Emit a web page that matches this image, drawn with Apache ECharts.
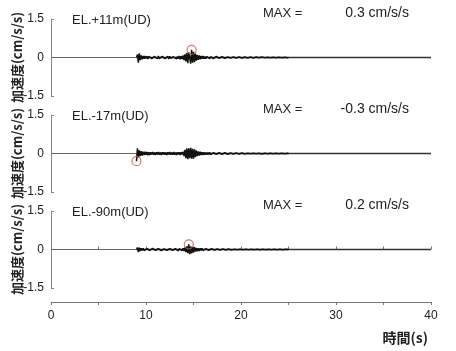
<!DOCTYPE html>
<html><head><meta charset="utf-8">
<script src="https://cdn.jsdelivr.net/npm/echarts@6/dist/echarts.min.js"></script>
<style>html,body{margin:0;padding:0;background:#fff}#c{width:456px;height:351px}</style>
</head><body><div id="c"></div>
<script>
// ---- data ----
const panelNames = ['EL.+11m(UD)', 'EL.-17m(UD)', 'EL.-90m(UD)'];
const maxTimes = [14.8, 9.0, 14.5];
const maxValues = [0.3, -0.3, 0.2];
const onsetTimes = [9.0, 9.0, 9.0];
const xTicks = [0, 10, 20, 30, 40];
const yTicks = [-1.5, 0, 1.5];
const t0 = 9.0, dt = 0.1;   // sampling of the traces below (s)
const tEnd = 40;
const acc11 = [
 0, 0.12, -0.2, 0.16, -0.1, 0.08, -0.07, 0.06, -0.05, 0.06,
 -0.04, 0.05, -0.06, 0.04, -0.03, 0.05, -0.04, 0.03, -0.05, 0.04,
 -0.03, 0.04, -0.05, 0.06, -0.04, 0.03, -0.05, 0.04, -0.03, 0.05,
 -0.04, 0.03, -0.05, 0.04, -0.06, 0.05, -0.03, 0.04, -0.05, 0.03,
 -0.04, 0.05, -0.06, 0.04, -0.05, 0.06, -0.07, 0.05, -0.06, 0.08,
 -0.1, 0.12, -0.15, 0.18, -0.22, 0.2, 0.14, -0.24, 0.3, -0.2,
 0.22, -0.18, 0.15, -0.12, 0.1, -0.09, 0.08, -0.07, 0.06, -0.05,
 0.06, -0.05, 0.04, -0.05, 0.04, -0.03, 0.04, -0.05, 0.03, -0.04,
 0.03, -0.04, 0.03, -0.03, 0.04, -0.03, 0.02, -0.03, 0.03, -0.02,
 0.03, -0.02, 0.03, -0.03, 0.02, -0.03, 0.02, -0.02, 0.03, -0.02,
 0.02, -0.03, 0.02, -0.02, 0.03, -0.02, 0.02, -0.02, 0.02, -0.03,
 0.02, -0.02, 0.02, -0.01, 0.02, -0.02, 0.01, -0.02, 0.02, -0.01,
 0.02, -0.01, 0.01, -0.02, 0.01, -0.01, 0.02, -0.01, 0.01, -0.01,
 0.01, -0.01, 0.02, -0.01, 0.01, -0.01, 0.01, -0.02, 0.01, -0.01,
 0.01, -0.01, 0.01, -0.01, 0.01, -0.01, 0.01, -0.01, 0.01, -0.01,
 0.01, -0.01, 0.01, -0.01, 0.01, -0.01, 0.01, -0.01, 0.01, -0.01,
 0
];
const acc17 = [
 -0.3, 0.2, -0.15, 0.12, -0.1, 0.09, -0.08, 0.07, -0.06, 0.07,
 -0.05, 0.06, -0.07, 0.05, -0.06, 0.05, -0.04, 0.06, -0.05, 0.04,
 -0.06, 0.05, -0.04, 0.06, -0.05, 0.04, -0.06, 0.05, -0.04, 0.05,
 -0.05, 0.04, -0.06, 0.05, -0.04, 0.06, -0.05, 0.04, -0.05, 0.06,
 -0.05, 0.04, -0.06, 0.05, -0.04, 0.05, -0.06, 0.05, -0.04, 0.07,
 -0.1, 0.14, -0.18, 0.2, -0.22, 0.2, -0.18, 0.22, -0.2, 0.18,
 -0.2, 0.16, -0.14, 0.12, -0.1, 0.08, -0.08, 0.07, -0.06, 0.05,
 -0.06, 0.05, -0.05, 0.04, -0.05, 0.04, -0.04, 0.05, -0.04, 0.03,
 -0.04, 0.03, -0.04, 0.04, -0.03, 0.04, -0.03, 0.03, -0.04, 0.03,
 -0.03, 0.03, -0.02, 0.03, -0.03, 0.02, -0.03, 0.03, -0.02, 0.02,
 -0.02, 0.03, -0.02, 0.02, -0.03, 0.02, -0.02, 0.02, -0.02, 0.02,
 -0.02, 0.02, -0.01, 0.02, -0.02, 0.01, -0.02, 0.01, -0.01, 0.02,
 -0.01, 0.02, -0.01, 0.01, -0.01, 0.02, -0.01, 0.01, -0.01, 0.01,
 -0.01, 0.01, -0.02, 0.01, -0.01, 0.01, -0.01, 0.01, -0.01, 0.01,
 -0.01, 0.01, -0.01, 0.01, -0.01, 0.01, -0.01, 0.01, -0.01, 0.01,
 -0.01, 0.01, -0.01, 0.01, -0.01, 0.01, -0.01, 0.01, -0.01, 0.01,
 0
];
const acc90 = [
 0, 0.08, -0.1, 0.07, -0.06, 0.05, -0.04, 0.05, -0.04, 0.03,
 -0.04, 0.03, -0.03, 0.04, -0.03, 0.02, -0.03, 0.04, -0.03, 0.03,
 -0.03, 0.03, -0.04, 0.03, -0.02, 0.03, -0.04, 0.03, -0.03, 0.02,
 -0.03, 0.04, -0.03, 0.03, -0.05, 0.03, -0.03, 0.04, -0.03, 0.03,
 -0.04, 0.03, -0.03, 0.04, -0.05, 0.03, -0.04, 0.05, -0.04, 0.05,
 -0.06, 0.08, -0.1, 0.12, -0.14, 0.2, -0.18, 0.12, -0.15, 0.1,
 -0.12, 0.09, -0.08, 0.06, -0.07, 0.05, -0.06, 0.05, -0.04, 0.05,
 -0.04, 0.03, -0.04, 0.03, -0.03, 0.04, -0.03, 0.03, -0.04, 0.03,
 -0.03, 0.03, -0.02, 0.03, -0.03, 0.02, -0.03, 0.02, -0.02, 0.03,
 -0.02, 0.02, -0.02, 0.03, -0.02, 0.02, -0.02, 0.02, -0.03, 0.02,
 -0.02, 0.02, -0.02, 0.01, -0.02, 0.02, -0.01, 0.02, -0.02, 0.01,
 -0.01, 0.02, -0.01, 0.01, -0.02, 0.01, -0.01, 0.01, -0.01, 0.01,
 -0.01, 0.01, -0.01, 0.01, -0.01, 0.01, -0.01, 0.01, -0.01, 0.01,
 -0.01, 0.01, -0.01, 0.01, -0.01, 0.01, -0.01, 0.01, -0.01, 0.01,
 -0.01, 0.01, -0.01, 0.01, -0.01, 0.01, -0.01, 0.01, -0.01, 0.01,
 -0.01, 0.01, -0.01, 0.01, -0.01, 0.01, -0.01, 0.01, -0.01, 0.01,
 0
];
const traces = [acc11, acc17, acc90];

// ---- layout ----
const tops = [19, 115, 211];
const gh = 77;
const numFont = 'Liberation Sans';
const jpFont = 'Noto Sans CJK JP';

const grids = tops.map(t => ({ left: 51, right: 25, top: t, height: gh, containLabel: false, outerBoundsMode: 'none' }));
const xAxes = [];
const yAxes = [];
const series = [];
const graphics = [];

tops.forEach((t, i) => {
  const isLast = i === tops.length - 1;
  xAxes.push({
    type: 'value', gridIndex: i, min: 0, max: tEnd, interval: 5,
    show: isLast, position: 'bottom', offset: 14,
    axisLine: { onZero: false, lineStyle: { color: '#777', width: 1 } },
    axisTick: { show: true, length: 3, inside: false, lineStyle: { color: '#777' } },
    axisLabel: {
      margin: 8, color: '#222', fontFamily: numFont, fontSize: 12,
      formatter: v => (xTicks.indexOf(v) >= 0 ? String(v) : '')
    },
    splitLine: { show: false }
  });
  yAxes.push({
    type: 'value', gridIndex: i, min: yTicks[0], max: yTicks[2], interval: 1.5,
    name: '加速度(cm/s/s)', nameLocation: 'middle', nameGap: 27, nameMoveOverlap: false,
    nameTextStyle: { fontFamily: jpFont, fontSize: 13, fontWeight: 'bold', color: '#222' },
    axisLine: { show: true, lineStyle: { color: '#888', width: 1 } },
    axisTick: { show: true, inside: true, length: 3, lineStyle: { color: '#888' } },
    axisLabel: {
      margin: 7, color: '#222', fontFamily: numFont, fontSize: 12,
      formatter: v => (v === 0 ? '0' : String(v))
    },
    splitLine: { show: false }
  });
  // baseline before onset (thin) and after onset (darker noise band)
  series.push({
    type: 'line', xAxisIndex: i, yAxisIndex: i, silent: true, showSymbol: false,
    data: [[0, 0], [onsetTimes[i], 0]],
    lineStyle: { color: '#666', width: 1 }, z: 1
  });
  series.push({
    type: 'line', xAxisIndex: i, yAxisIndex: i, silent: true, showSymbol: false,
    data: [[onsetTimes[i], 0], [tEnd, 0]],
    lineStyle: { color: '#333', width: 1.6 }, z: 1
  });
  // trace
  const data = traces[i].map((v, k) => [+(t0 + k * dt).toFixed(2), v]);
  series.push({
    type: 'line', xAxisIndex: i, yAxisIndex: i, silent: true, showSymbol: false,
    data: data, lineStyle: { color: '#111', width: 1.5 }, z: 2
  });
  // max marker
  series.push({
    type: 'scatter', xAxisIndex: i, yAxisIndex: i, silent: true,
    symbol: 'circle', symbolSize: 9,
    data: [[maxTimes[i], maxValues[i]]],
    itemStyle: { color: 'rgba(0,0,0,0)', borderColor: '#cc5a44', borderWidth: 1.2 }, z: 3
  });
  graphics.push({
    type: 'text', x: 72, y: t + 1,
    style: { text: panelNames[i], font: '13px "Liberation Sans"', fill: '#222', verticalAlign: 'middle' }
  });
  graphics.push({
    type: 'text', x: 263, y: t - 6,
    style: { text: 'MAX =', font: '13px "Liberation Sans"', fill: '#222', verticalAlign: 'middle' }
  });
  graphics.push({
    type: 'text', x: 409, y: t - 6,
    style: { text: maxValues[i] + ' cm/s/s', font: '14px "Liberation Sans"', fill: '#222',
             align: 'right', verticalAlign: 'middle' }
  });
});
// second bottom axis for inside ticks (cross-tick look)
xAxes.push({
  type: 'value', gridIndex: 2, min: 0, max: tEnd, interval: 5, position: 'bottom', offset: 14,
  axisLine: { show: false },
  axisTick: { show: true, inside: true, length: 3, lineStyle: { color: '#777' } },
  axisLabel: { show: false }, splitLine: { show: false }
});
graphics.push({
  type: 'text', x: 428, y: 338,
  style: { text: '時間(s)', font: 'bold 14px "Noto Sans CJK JP"', fill: '#222',
           align: 'right', verticalAlign: 'middle' }
});

const chart = echarts.init(document.getElementById('c'), null, { renderer: 'canvas' });
chart.setOption({
  animation: false,
  backgroundColor: '#fff',
  grid: grids,
  xAxis: xAxes,
  yAxis: yAxes,
  series: series,
  graphic: graphics
});
</script>
</body></html>
